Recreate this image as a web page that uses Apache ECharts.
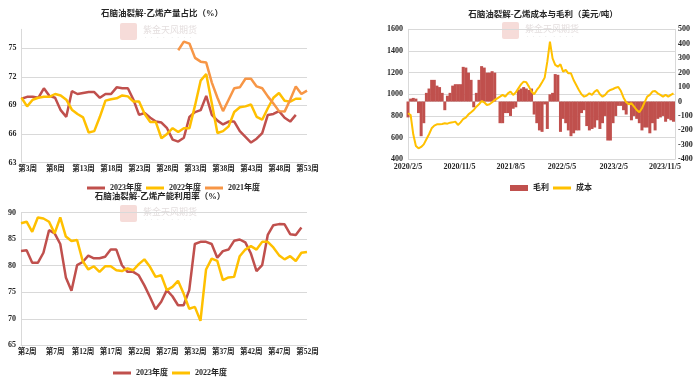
<!DOCTYPE html>
<html><head><meta charset="utf-8">
<script src="https://cdn.jsdelivr.net/npm/echarts/dist/echarts.min.js"></script>
<style>html,body{margin:0;padding:0;background:#fff}#c{width:700px;height:382px}</style>
</head><body><div id="c"></div>
<script>
// ---------- Chart 1: 石脑油裂解-乙烯产量占比（%） ----------
const c1Weeks = Array.from({length: 52}, (_, i) => '第' + (i + 3) + '周');
const c1_2023 = [69.7, 69.9, 69.9, 69.8, 70.8, 70.0, 69.8, 68.5, 67.8, 70.5, 70.2, 70.3, 70.4, 70.4, 69.8, 70.2, 70.2, 70.9, 70.8, 70.8, 69.6, 68.0, 68.2, 67.7, 67.3, 67.2, 66.6, 65.4, 65.2, 65.6, 67.8, 68.3, 68.5, 70.0, 68.0, 67.4, 67.0, 67.3, 67.3, 66.3, 65.7, 65.1, 65.5, 66.1, 68.0, 68.1, 68.4, 67.7, 67.3, 68.0];
const c1_2022 = [69.8, 68.9, 69.6, 69.8, 69.9, 69.9, 70.2, 70.05, 69.6, 68.55, 68.1, 67.75, 66.15, 66.3, 67.8, 69.5, 69.65, 69.75, 70.05, 69.95, 69.4, 69.4, 68.1, 67.25, 67.25, 65.55, 66.0, 66.6, 66.2, 66.6, 66.6, 69.0, 71.6, 72.3, 69.2, 66.1, 66.3, 66.8, 68.3, 68.8, 68.9, 69.1, 67.8, 67.5, 68.7, 69.8, 70.3, 69.5, 69.4, 69.7, 69.7];
const c1_2021_start = '第31周';
const c1_2021 = [74.8, 75.7, 75.5, 74.0, 73.6, 73.5, 71.4, 69.8, 68.4, 69.6, 70.8, 70.9, 71.8, 71.8, 71.0, 70.8, 69.95, 69.2, 68.4, 68.35, 69.6, 71.0, 70.2, 70.55];

// ---------- Chart 2: 石脑油裂解-乙烯成本与毛利（美元/吨） ----------
const c2Dates = ['2020-02-05','2020-02-19','2020-03-04','2020-03-18','2020-04-01','2020-04-15','2020-04-29','2020-05-13','2020-05-27','2020-06-10','2020-06-24','2020-07-08','2020-07-22','2020-08-05','2020-08-19','2020-09-02','2020-09-16','2020-09-30','2020-10-14','2020-10-28','2020-11-11','2020-11-25','2020-12-09','2020-12-23','2021-01-06','2021-01-20','2021-02-03','2021-02-17','2021-03-03','2021-03-17','2021-03-31','2021-04-14','2021-04-28','2021-05-12','2021-05-26','2021-06-09','2021-06-23','2021-07-07','2021-07-21','2021-08-04','2021-08-18','2021-09-01','2021-09-15','2021-09-29','2021-10-13','2021-10-27','2021-11-10','2021-11-24','2021-12-08','2021-12-22','2022-01-05','2022-01-19','2022-02-02','2022-02-16','2022-03-02','2022-03-16','2022-03-30','2022-04-13','2022-04-27','2022-05-11','2022-05-25','2022-06-08','2022-06-22','2022-07-06','2022-07-20','2022-08-03','2022-08-17','2022-08-31','2022-09-14','2022-09-28','2022-10-12','2022-10-26','2022-11-09','2022-11-23','2022-12-07','2022-12-21','2023-01-04','2023-01-18','2023-02-01','2023-02-15','2023-03-01','2023-03-15','2023-03-29','2023-04-12','2023-04-26','2023-05-10','2023-05-24','2023-06-07','2023-06-21','2023-07-05','2023-07-19','2023-08-02','2023-08-16','2023-08-30','2023-09-13','2023-09-27','2023-10-11','2023-10-25','2023-11-08','2023-11-22','2023-12-06','2023-12-20'];
const c2Cost = [825, 809, 631, 523, 501, 514, 538, 585, 631, 686, 711, 723, 723, 726, 732, 729, 738, 741, 748, 717, 741, 772, 784, 815, 834, 855, 886, 908, 938, 926, 901, 908, 926, 948, 963, 978, 994, 978, 1009, 1025, 994, 1018, 1055, 1092, 1117, 1111, 1071, 1025, 1000, 1040, 1071, 1111, 1154, 1301, 1486, 1332, 1271, 1255, 1277, 1209, 1225, 1194, 1194, 1132, 1086, 1040, 1000, 978, 988, 1009, 994, 1025, 1040, 1000, 978, 994, 1025, 1040, 1049, 1061, 1067, 1030, 969, 926, 908, 917, 886, 855, 834, 871, 926, 978, 994, 1025, 1030, 1009, 994, 978, 994, 978, 994, 1009];
const c2Profit = [-110, 20, 25, 20, -80, -240, -150, 60, 90, 150, 150, 110, 100, 60, -60, 40, 60, 110, 120, 120, 120, 240, 235, 200, 150, -40, 60, 150, 245, 235, 200, 200, 210, 200, 0, -150, -150, -80, -80, -100, -50, -40, 80, 90, 100, 90, 80, 90, -90, -150, -200, -210, -20, -190, 50, 60, 190, 185, -210, -120, -150, -200, -240, -220, -200, -200, -80, -60, -170, -200, -190, -180, -130, -190, -150, -100, -270, -270, -150, -100, -30, -30, -60, -90, -20, -130, -100, -120, -150, -200, -180, -180, -220, -150, -200, -120, -110, -100, -140, -120, -130, -140];
const c2TickDates = ['2020-02-05', '2020-11-05', '2021-08-05', '2022-05-05', '2023-02-05', '2023-11-05'];
const c2Min = '2020-02-05', c2Max = '2023-12-28';

// ---------- Chart 3: 石脑油裂解-乙烯产能利用率（%） ----------
const c3Weeks = Array.from({length: 52}, (_, i) => '第' + (i + 2) + '周');
const c3_2023 = [82.8, 82.9, 80.55, 80.55, 82.45, 86.7, 86.1, 84.1, 77.8, 75.3, 80.1, 80.7, 81.9, 81.4, 81.4, 81.7, 83.05, 83.05, 80.1, 78.85, 78.85, 78.2, 76.3, 74.1, 71.8, 73.2, 75.4, 74.25, 72.55, 72.55, 75.4, 84.1, 84.5, 84.5, 84.1, 81.5, 82.75, 83.05, 84.7, 84.95, 84.4, 82.3, 79.0, 80.1, 85.8, 87.65, 87.85, 87.8, 85.95, 85.8, 87.2];
const c3_2022 = [88.0, 88.3, 86.4, 89.1, 88.9, 88.3, 86.1, 89.1, 85.5, 84.65, 84.85, 80.9, 79.3, 79.9, 78.85, 79.9, 79.9, 79.15, 79.0, 79.5, 79.15, 80.3, 81.2, 79.8, 77.9, 78.2, 75.4, 76.0, 77.15, 74.75, 71.9, 72.25, 69.6, 79.3, 81.35, 80.9, 77.3, 77.8, 77.9, 81.8, 83.05, 83.7, 83.05, 84.5, 84.5, 83.45, 82.0, 81.2, 81.8, 80.9, 82.45, 82.6];

// ---------- styling ----------
const FONT = "'Liberation Serif','Noto Sans CJK SC',serif";
const RED = '#C0504D', YEL = '#FFC000', ORG = '#F79646', GRID = '#d9d9d9', TXT = '#262626';
const LINE_ICON = 'path://M0 0H18V3H0Z';
const parseD = s => { const p = s.split('-').map(Number); return new Date(p[0], p[1] - 1, p[2]).getTime(); };
const fmtD = v => { const d = new Date(v); return d.getFullYear() + '/' + (d.getMonth() + 1) + '/' + d.getDate(); };

const titleStyle = {fontSize: 8.5, fontWeight: 'bold', fontFamily: FONT, color: TXT};
const lblStyle = {fontSize: 8, fontWeight: 'bold', fontFamily: FONT, color: TXT};
const catLabel = {interval: 4, fontSize: 7.5, fontWeight: 'bold', fontFamily: FONT, color: TXT, margin: 3, padding: [0, 0, 0, 12]};

const c1_2021_data = c1Weeks.map(() => null);
const off21 = c1Weeks.indexOf(c1_2021_start);
c1_2021.forEach((v, i) => { c1_2021_data[off21 + i] = v; });

function wm(x, y) {
  return [
    {type: 'rect', left: x, top: y, shape: {width: 17, height: 17, r: 2}, style: {fill: '#f6dcd9'}, silent: true, z: 0},
    {type: 'text', left: x + 23, top: y + 2, style: {text: '紫金天风期货', fill: '#e4dede', font: "9px 'Noto Sans CJK SC'"}, silent: true, z: 0},
    {type: 'text', left: x + 23, top: y + 12, style: {text: '· · · ·   · · · ·', fill: '#ececec', font: "5px 'Noto Sans CJK SC'"}, silent: true, z: 0}
  ];
}
const lineItem = n => ({name: n, icon: LINE_ICON});

const option = {
  animation: false,
  backgroundColor: '#fff',
  title: [
    {text: '石脑油裂解-乙烯产量占比（%）', left: 157, top: 5, textAlign: 'center', textStyle: titleStyle},
    {text: '石脑油裂解-乙烯成本与毛利（美元/吨）', left: 538, top: 6, textAlign: 'center', textStyle: titleStyle},
    {text: '石脑油裂解-乙烯产能利用率（%）', left: 155, top: 188, textAlign: 'center', textStyle: titleStyle}
  ],
  graphic: [].concat(wm(120, 23), wm(502, 22), wm(120, 205)),
  legend: [
    {data: ['2023年度', '2022年度', '2021年度'].map(lineItem), left: 82, top: 179, itemWidth: 18, itemHeight: 8, itemGap: 4, textStyle: lblStyle},
    {data: [{name: '毛利', icon: 'rect'}, lineItem('成本')], left: 505, top: 179, itemWidth: 18, itemHeight: 6, itemGap: 4, textStyle: lblStyle},
    {data: ['2023年度', '2022年度'].map(lineItem), left: 108, top: 364, itemWidth: 18, itemHeight: 8, itemGap: 4, textStyle: lblStyle}
  ],
  grid: [
    {left: 21.5, top: 29.3, width: 285.5, height: 133.2},
    {left: 408, top: 29.3, width: 267, height: 130},
    {left: 21, top: 212.7, width: 286, height: 132.6}
  ],
  xAxis: [
    {gridIndex: 0, type: 'category', data: c1Weeks, boundaryGap: false,
     axisLine: {lineStyle: {color: GRID}}, axisTick: {show: false}, axisLabel: catLabel, splitLine: {show: false}},
    {gridIndex: 1, type: 'value', min: parseD(c2Min), max: parseD(c2Max),
     axisLine: {lineStyle: {color: GRID}}, axisTick: {show: false}, splitLine: {show: false},
     axisLabel: Object.assign({}, lblStyle, {customValues: c2TickDates.map(parseD), formatter: fmtD, margin: 4, hideOverlap: false})},
    {gridIndex: 2, type: 'category', data: c3Weeks, boundaryGap: false,
     axisLine: {lineStyle: {color: GRID}}, axisTick: {show: false}, axisLabel: catLabel, splitLine: {show: false}}
  ],
  yAxis: [
    {gridIndex: 0, type: 'value', min: 63, max: 77, interval: 3,
     axisLine: {show: true, lineStyle: {color: GRID}}, axisTick: {show: false},
     axisLabel: Object.assign({}, lblStyle, {margin: 5, formatter: v => ((v - 63) % 3 === 0 ? String(v) : '')}),
     splitLine: {show: true, showMaxLine: false, lineStyle: {color: GRID}}},
    {gridIndex: 1, type: 'value', min: 400, max: 1600, interval: 200,
     axisLine: {show: true, lineStyle: {color: GRID}}, axisTick: {show: false},
     axisLabel: Object.assign({}, lblStyle, {margin: 5, formatter: v => String(v)}), splitLine: {show: true, lineStyle: {color: GRID}}},
    {gridIndex: 1, type: 'value', position: 'right', min: -400, max: 500, interval: 100,
     axisLine: {show: true, lineStyle: {color: GRID}}, axisTick: {show: false},
     axisLabel: Object.assign({}, lblStyle, {margin: 3, formatter: v => String(v)}), splitLine: {show: false}},
    {gridIndex: 2, type: 'value', min: 65, max: 90, interval: 5,
     axisLine: {show: true, lineStyle: {color: GRID}}, axisTick: {show: false},
     axisLabel: Object.assign({}, lblStyle, {margin: 5}), splitLine: {show: true, lineStyle: {color: GRID}}}
  ],
  series: [
    {name: '2023年度', type: 'line', xAxisIndex: 0, yAxisIndex: 0, data: c1_2023, symbol: 'none', color: RED, lineStyle: {width: 2.5, color: RED}, z: 3},
    {name: '2022年度', type: 'line', xAxisIndex: 0, yAxisIndex: 0, data: c1_2022, symbol: 'none', color: YEL, lineStyle: {width: 2.5, color: YEL}, z: 4},
    {name: '2021年度', type: 'line', xAxisIndex: 0, yAxisIndex: 0, data: c1_2021_data, symbol: 'none', color: ORG, lineStyle: {width: 2.5, color: ORG}, z: 5},
    {name: '毛利', type: 'bar', xAxisIndex: 1, yAxisIndex: 2, data: c2Dates.map((d, i) => [parseD(d), c2Profit[i]]), barWidth: 3, color: RED, itemStyle: {color: RED}, z: 2},
    {name: '成本', type: 'line', xAxisIndex: 1, yAxisIndex: 1, data: c2Dates.map((d, i) => [parseD(d), c2Cost[i]]), symbol: 'none', color: YEL, lineStyle: {width: 2, color: YEL}, z: 4},
    {name: '2023年度', type: 'line', xAxisIndex: 2, yAxisIndex: 3, data: c3_2023, symbol: 'none', color: RED, lineStyle: {width: 2.5, color: RED}, z: 3},
    {name: '2022年度', type: 'line', xAxisIndex: 2, yAxisIndex: 3, data: c3_2022, symbol: 'none', color: YEL, lineStyle: {width: 2.5, color: YEL}, z: 4}
  ]
};
const chart = echarts.init(document.getElementById('c'), null, {renderer: 'canvas'});
chart.setOption(option);
</script></body></html>
